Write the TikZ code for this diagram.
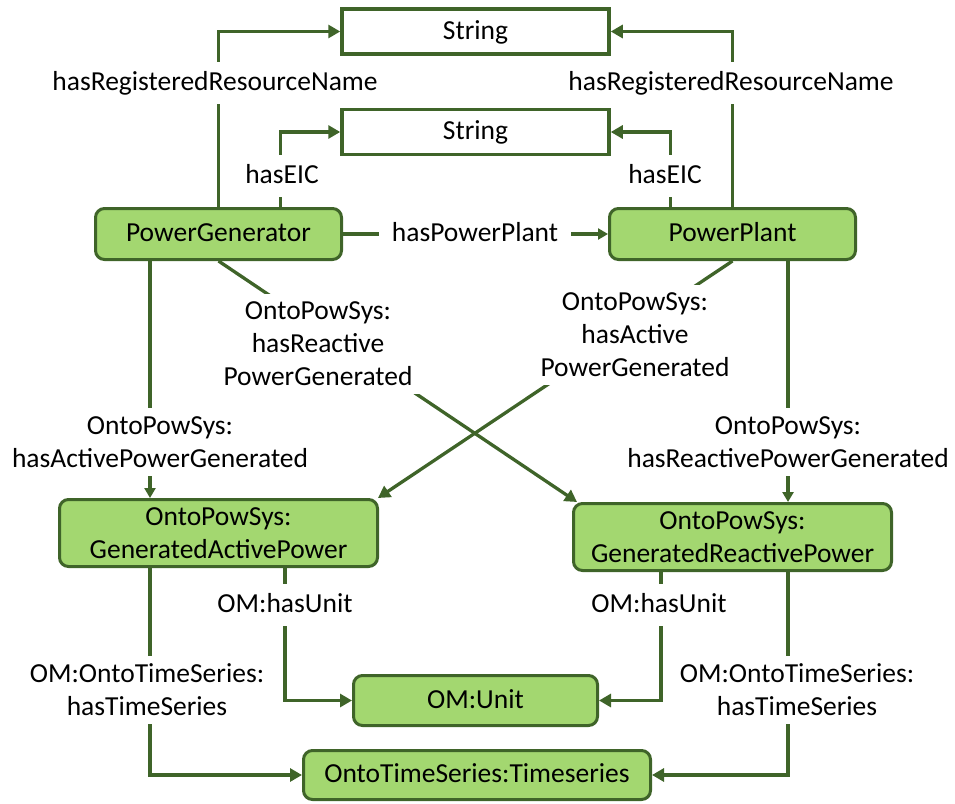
\documentclass[tikz,border=0pt]{standalone}
\usepackage{fontspec}
\setmainfont{Carlito}
\usetikzlibrary{arrows.meta}
\definecolor{dgreen}{HTML}{3F6429}
\definecolor{lgreen}{HTML}{A3D770}
\begin{document}
\begin{tikzpicture}[x=1pt,y=-1pt,
 every node/.style={font=\fontsize{27.5}{33}\selectfont, text=black},
 one/.style={text height=21pt, text depth=5.5pt},
 cls/.style={draw=dgreen, line width=3pt, fill=lgreen, rounded corners=9pt, align=center, inner sep=0pt},
 strbox/.style={draw=dgreen, line width=3.5pt, fill=white, inner sep=0pt},
 lbl/.style={fill=white, align=center, inner xsep=8pt, inner ysep=8pt},
 conn/.style={draw=dgreen, line width=3.3pt},
 arr/.style={conn, -{Triangle[length=12pt,width=13pt]}},
 arrs/.style={conn, -{Triangle[length=10pt,width=11pt]}}]
\useasboundingbox (0,0) rectangle (955,803);
% classes
\node[strbox, one, minimum width=267pt, minimum height=45pt] (S1) at (475.5,31.5) {String};
\node[strbox, one, minimum width=267pt, minimum height=45pt] (S2) at (475.5,132) {String};
\node[cls, one, minimum width=246pt, minimum height=51pt] (PG) at (218.5,234) {PowerGenerator};
\node[cls, one, minimum width=246pt, minimum height=51pt] (PP) at (732.5,234) {PowerPlant};
\node[cls, minimum width=318pt, minimum height=67pt] (GAP) at (218.5,533) {OntoPowSys:\\GeneratedActivePower};
\node[cls, minimum width=318pt, minimum height=67pt] (GRP) at (732.5,537) {OntoPowSys:\\GeneratedReactivePower};
\node[cls, one, minimum width=244pt, minimum height=50pt] (Unit) at (475.5,700.5) {OM:Unit};
\node[cls, one, minimum width=347pt, minimum height=49pt] (TS) at (477,775) {OntoTimeSeries:Timeseries};
% connectors
\draw[arr] (PG.north) |- (S1.west);
\draw[arr] ([xshift=62pt]PG.north) |- (S2.west);
\draw[arr] (PP.north) |- (S1.east);
\draw[arr] ([xshift=-62pt]PP.north) |- (S2.east);
\draw[arrs] (PG.east) -- (PP.west);
\draw[arrs] ([xshift=-68.5pt]PG.south) -- ([xshift=-68.5pt]GAP.north);
\draw[arrs] ([xshift=55.5pt]PP.south) -- ([xshift=55.5pt]GRP.north);
\draw[arr] (PG.south) -- ([xshift=5pt]GRP.north west);
\draw[arr] (PP.south) -- ([xshift=-1pt]GAP.north east);
\draw[arr] ([xshift=66.5pt]GAP.south) |- (Unit.west);
\draw[arr] ([xshift=-71.5pt]GRP.south) |- (Unit.east);
\draw[arr] ([xshift=-68.5pt]GAP.south) |- (TS.west);
\draw[arr] ([xshift=55.5pt]GRP.south) |- (TS.east);
% labels
\node[lbl, one] (l1) at (215,83) {hasRegisteredResourceName};
\node[lbl, one] (l2) at (731,83) {hasRegisteredResourceName};
\node[lbl, one] (l3) at (282,176) {hasEIC};
\node[lbl, one] (l4) at (665,176) {hasEIC};
\node[lbl, one, inner xsep=13pt] (l5) at (475,234) {hasPowerPlant};
\node[lbl] (l6) at (318,344) {OntoPowSys:\\hasReactive\\PowerGenerated};
\node[lbl] (l7) at (635,335) {OntoPowSys:\\hasActive\\PowerGenerated};
\node[lbl] (l8) at (160,442) {OntoPowSys:\\hasActivePowerGenerated};
\node[lbl] (l9) at (788,442) {OntoPowSys:\\hasReactivePowerGenerated};
\node[lbl, one] (l10) at (285,605) {OM:hasUnit};
\node[lbl, one] (l11) at (659,605) {OM:hasUnit};
\node[lbl] (l12) at (147,690) {OM:OntoTimeSeries:\\hasTimeSeries};
\node[lbl] (l13) at (797,690) {OM:OntoTimeSeries:\\hasTimeSeries};
\end{tikzpicture}
\end{document}
